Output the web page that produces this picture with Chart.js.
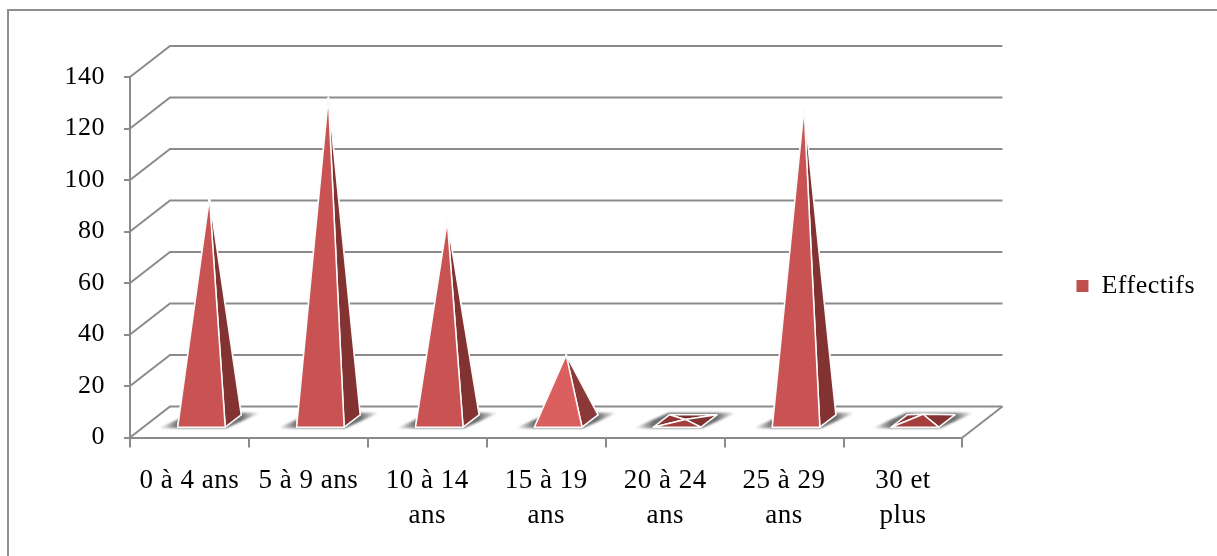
<!DOCTYPE html>
<html lang="fr">
<head>
<meta charset="utf-8">
<title>Effectifs par tranche d'âge</title>
<script src="https://cdn.jsdelivr.net/npm/chart.js@4"></script>
<style>
  html, body { margin: 0; height: 100%; overflow: hidden; background: #fff; }
  #frame {
    position: absolute; left: 7px; top: 9px; width: 1300px; height: 640px;
    border-left: 2px solid #8e8e8e; border-top: 2px solid #8e8e8e;
  }
  canvas { position: absolute; left: 0; top: 0; }
</style>
</head>
<body>
<div id="frame"></div>
<canvas id="chart" width="1217" height="556"></canvas>
<script>
const categories = ['0 à 4 ans', '5 à 9 ans', ['10 à 14', 'ans'], ['15 à 19', 'ans'], ['20 à 24', 'ans'], ['25 à 29', 'ans'], ['30 et', 'plus']]
const effectifs = [87, 126, 78, 26, 1, 122, 3]
const yTicks = [0, 20, 40, 60, 80, 100, 120, 140]

const AXIS_COLOR = '#8b8b8b'
const FONT_FAMILY = '"Liberation Serif", serif'
const TICK_FONT = { family: FONT_FAMILY, size: 26 }
const LABEL_FONT = { family: FONT_FAMILY, size: 27, lineHeight: 1.3 }

// how far the floor recedes on screen
const DEPTH_X = 40
const DEPTH_Y = 31

const path = (ctx, pts) => {
  ctx.beginPath()
  pts.forEach(([x, y], i) => (i ? ctx.lineTo(x, y) : ctx.moveTo(x, y)))
  ctx.closePath()
}

// steeper faces catch less light, flat ones are in shade
const frontColor = (value) => {
  if (value < 10) return '#a83f3f'
  if (value < 50) return '#db5f5f'
  return '#c95353'
}

const drawShadow = (ctx, fl, br) => {
  const x0 = fl[0] - 19
  const x1 = br[0] + 19
  const bottom = fl[1] + 1
  const top = br[1] - 2
  const gradient = ctx.createLinearGradient(x0, 0, x1, 0)
  gradient.addColorStop(0, 'rgba(110,110,110,0)')
  gradient.addColorStop(0.19, 'rgba(110,110,110,1)')
  gradient.addColorStop(0.81, 'rgba(110,110,110,1)')
  gradient.addColorStop(1, 'rgba(110,110,110,0)')
  ctx.save()
  ctx.filter = 'blur(1px)'
  ctx.fillStyle = gradient
  path(ctx, [[x0, bottom], [x1 - 34, bottom], [x1, top], [x0 + 34, top]])
  ctx.fill()
  ctx.restore()
}

const drawPyramid = (ctx, bar, value, yScale) => {
  const half = bar.width / 2
  const floor = bar.base
  const at = (x, d) => [x + DEPTH_X * d, floor - DEPTH_Y * d]

  // footprint sits in the middle 40% of the floor depth
  const fl = at(bar.x - half, 0.3)
  const fr = at(bar.x + half, 0.3)
  const br = at(bar.x + half, 0.7)
  const bl = at(bar.x - half, 0.7)
  const apex = [bar.x + DEPTH_X / 2, yScale.getPixelForValue(value) - DEPTH_Y / 2]

  drawShadow(ctx, fl, br)

  ctx.lineWidth = 1.5
  ctx.lineJoin = 'round'
  ctx.strokeStyle = '#fbfbfb'
  const faces = [
    [[bl, br, apex], '#7c2e2e'],
    [[fl, bl, apex], '#8e3434'],
    [[fr, br, apex], value < 50 && value >= 10 ? '#8a3838' : '#833232'],
    [[fl, fr, apex], frontColor(value)]
  ]
  faces.forEach(([pts, color]) => {
    ctx.fillStyle = color
    path(ctx, pts)
    ctx.fill()
    ctx.stroke()
  })
}

const pyramidPlugin = {
  id: 'pyramids',
  beforeLayout(chart) {
    chart.ctx.letterSpacing = '0.5px'
  },
  // the x axis box is tall enough for two-line labels, so lift the legend back up
  afterLayout(chart) {
    chart.legend.top -= 30.5
    chart.legend.bottom -= 30.5
  },
  // back wall and floor lines running off into the depth
  beforeDatasetsDraw(chart) {
    const { ctx, scales: { x, y } } = chart
    ctx.save()
    ctx.strokeStyle = AXIS_COLOR
    ctx.lineWidth = 2
    yTicks.forEach((tick) => {
      const py = y.getPixelForValue(tick)
      ctx.beginPath()
      ctx.moveTo(x.left, py)
      ctx.lineTo(x.left + DEPTH_X, py - DEPTH_Y)
      ctx.lineTo(x.right + DEPTH_X, py - DEPTH_Y)
      ctx.stroke()
    })
    const floor = y.getPixelForValue(0)
    ctx.beginPath()
    ctx.moveTo(x.right, floor)
    ctx.lineTo(x.right + DEPTH_X, floor - DEPTH_Y)
    ctx.stroke()
    ctx.restore()
  },
  // swap the flat bars for pyramids
  beforeDatasetDraw(chart, args) {
    const { ctx, scales: { y } } = chart
    ctx.save()
    args.meta.data.forEach((bar, i) => drawPyramid(ctx, bar, effectifs[i], y))
    ctx.restore()
    return false
  }
}

const ctx = document.getElementById('chart').getContext('2d')

new Chart(ctx, {
  type: 'bar',
  data: {
    labels: categories,
    datasets: [{
      label: 'Effectifs',
      data: effectifs,
      backgroundColor: '#c0504d',
      barPercentage: 1,
      categoryPercentage: 0.4
    }]
  },
  options: {
    responsive: false,
    animation: false,
    layout: {
      autoPadding: false,
      padding: { top: 77, bottom: 0, left: 0, right: 12 }
    },
    plugins: {
      title: { display: false },
      tooltip: { enabled: false },
      legend: {
        position: 'right',
        onClick: null,
        labels: { boxWidth: 12, boxHeight: 12, padding: 114, color: '#000', font: TICK_FONT }
      }
    },
    scales: {
      x: {
        afterFit: (scale) => { scale.height = 118.5 },
        grid: { drawOnChartArea: false, color: AXIS_COLOR, lineWidth: 2, tickLength: 10 },
        border: { color: AXIS_COLOR, width: 2 },
        ticks: { color: '#000', font: LABEL_FONT, padding: 16, maxRotation: 0, autoSkip: false }
      },
      y: {
        min: 0,
        max: 140,
        afterFit: (scale) => { scale.width = 130 },
        grid: { drawOnChartArea: false, color: AXIS_COLOR, lineWidth: 2, tickLength: 6 },
        border: { color: AXIS_COLOR, width: 2 },
        ticks: { color: '#000', font: TICK_FONT, padding: 19, stepSize: 20 }
      }
    }
  },
  plugins: [pyramidPlugin]
})
</script>
</body>
</html>
